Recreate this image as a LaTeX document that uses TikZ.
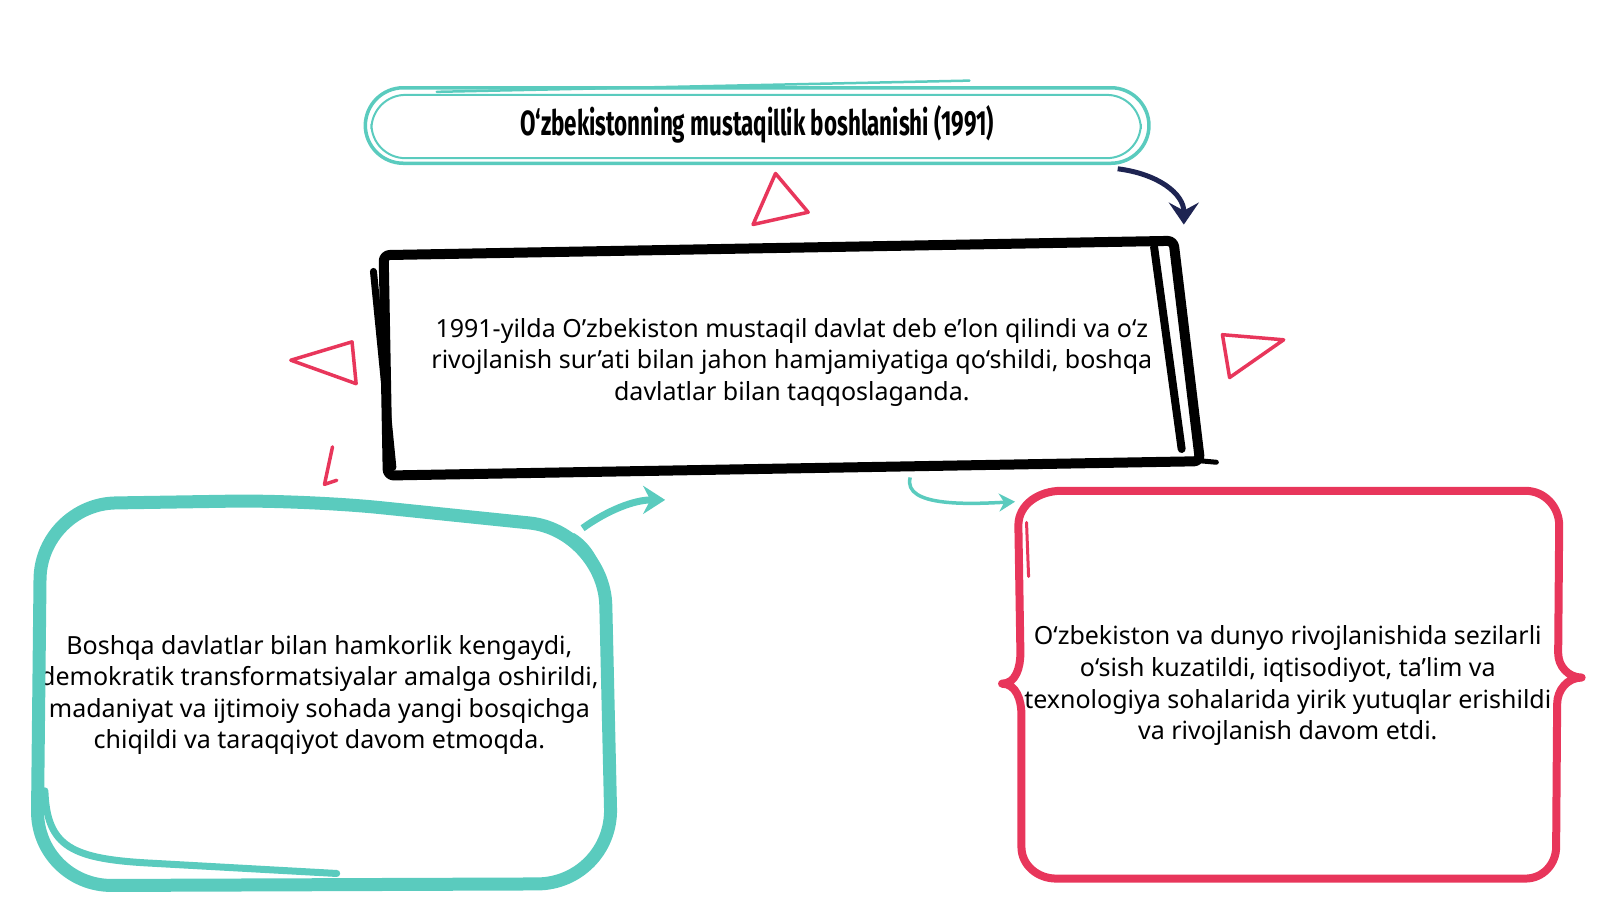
\documentclass[tikz,border=0pt]{standalone}
\usepackage{fontspec}
\setmainfont{Noto Sans}
\newfontfamily\titlefont[FakeStretch=0.64]{Fira Sans}
\usetikzlibrary{calc,arrows.meta,positioning}
\definecolor{sketchteal}{HTML}{5ACBBE}
\definecolor{sketchred}{HTML}{E8365B}
\definecolor{sketchnavy}{HTML}{1E2452}
\tikzstyle{textblock} = [rectangle, text centered, align=center,
    font=\fontsize{25}{31.6}\selectfont, inner sep=0pt]
\tikzstyle{titleblock} = [rectangle, text centered, inner sep=0pt,
    font=\fontsize{35}{38}\selectfont\titlefont\bfseries]
\tikzstyle{tealline} = [draw=sketchteal, line cap=round, line join=round]
\tikzstyle{redline} = [draw=sketchred, line cap=round, line join=round]
\tikzstyle{tri} = [redline, line width=3.5pt]

\begin{document}
\begin{tikzpicture}[x=1.0204pt, y=-1.0204pt]
    \useasboundingbox (0,0) rectangle (1568,882);
    \node [titleblock, minimum width=784pt, minimum height=78pt] (title) at (742,122)
        {O‘zbekistonning mustaqillik boshlanishi (1991)};
    \node [textblock, minimum width=806pt, minimum height=230pt] (event) at (776,355)
        {1991-yilda O’zbekiston mustaqil davlat deb e’lon qilindi va o‘z\\
         rivojlanish sur’ati bilan jahon hamjamiyatiga qo‘shildi, boshqa\\
         davlatlar bilan taqqoslaganda.};
    \node [textblock, minimum width=577pt, minimum height=388pt] (world) at (313,681)
        {Boshqa davlatlar bilan hamkorlik kengaydi,\\
         demokratik transformatsiyalar amalga oshirildi,\\
         madaniyat va ijtimoiy sohada yangi bosqichga\\
         chiqildi va taraqqiyot davom etmoqda.};
    \node [textblock, minimum width=541pt, minimum height=390pt] (uzb) at (1262,672)
        {O‘zbekiston va dunyo rivojlanishida sezilarli\\
         o‘sish kuzatildi, iqtisodiyot, ta’lim va\\
         texnologiya sohalarida yirik yutuqlar erishildi\\
         va rivojlanish davom etdi.};

    % Sketch outlines
    \draw [tealline, line width=3.5pt, rounded corners=38pt] (358,86) rectangle (1126,160);
    \draw [tealline, line width=2pt, rounded corners=34pt] (364,93) rectangle (1118,155);
    \draw [tealline, line width=2.5pt] (428,90) -- (950,79);
    \draw [line width=10pt, line join=round, rounded corners=6pt]
        (376,250) -- (1150,236) -- (1176,452) -- (380,466) -- cycle;
    \draw [line width=7pt, line cap=round] (366,266) -- (385,458);
    \draw [line width=8pt, line cap=round] (1131,242) -- (1158,440);
    \draw [line width=5pt, line cap=round] (1170,451) -- (1192,453);
    \draw [tealline, line width=13pt, rounded corners=75pt]
        (300,490) -- (592,520) -- (600,866) -- (36,868) -- (40,494) -- cycle;
    \draw [tealline, line width=7pt]
        (44,775) .. controls (46,830) and (70,842) .. (150,846) -- (330,856);
    \draw [tealline, line width=3.5pt] (562,524) .. controls (580,535) and (590,555) .. (594,585);
    \draw [redline, line width=8pt]
        (1040,481) -- (1495,481) to[out=0,in=90] (1528,515) -- (1527,640)
        to[out=-90,in=180] (1550,664) to[out=180,in=90] (1526,690) -- (1525,830)
        to[out=-90,in=0] (1495,861) -- (1035,861) to[out=180,in=-90] (1001,830)
        -- (1001,700) to[out=90,in=0] (982,670) to[out=0,in=-90] (1000,640)
        -- (998,515) to[out=90,in=180] (1040,481);
    \draw [redline, line width=3pt] (1008,565) -- (1006,512);

    % Triangles
    \draw [tri] (760,170) -- (792,208) -- (738,220) -- cycle;
    \draw [tri] (285,353) -- (345,335) -- (349,376) -- cycle;
    \draw [tri] (1198,328) -- (1258,333) -- (1205,370) -- cycle;

    % Draw edges
    \draw [sketchnavy, line width=5pt, -{Stealth[length=22pt,width=30pt,inset=8pt]}]
        ($(title.south east)+(-31,5)$) .. controls +(40,5) and +(0,-30) .. ($(event.north east)+(-11,-22)$);
    \draw [sketchteal, line width=7pt, -{Stealth[length=22pt,width=28pt]}]
        ($(world.north east)+(-25,27)$) .. controls +(25,-18) and +(-30,0) .. ($(event.south west)+(271,22)$);
    \draw [sketchteal, line width=3.5pt, -{Stealth[length=16pt,width=18pt]}]
        ($(event.south)+(116,0)$) .. controls +(-8,30) and +(-40,2) .. ($(uzb.north west)+(-2,11)$);
    \draw [sketchred, line width=3.5pt, line join=round, line cap=round]
        ($(event.south west)+(-55,-30)$) -- ($(world.north)+(5,-16)$) -- ++(12,-4);
\end{tikzpicture}
\end{document}
